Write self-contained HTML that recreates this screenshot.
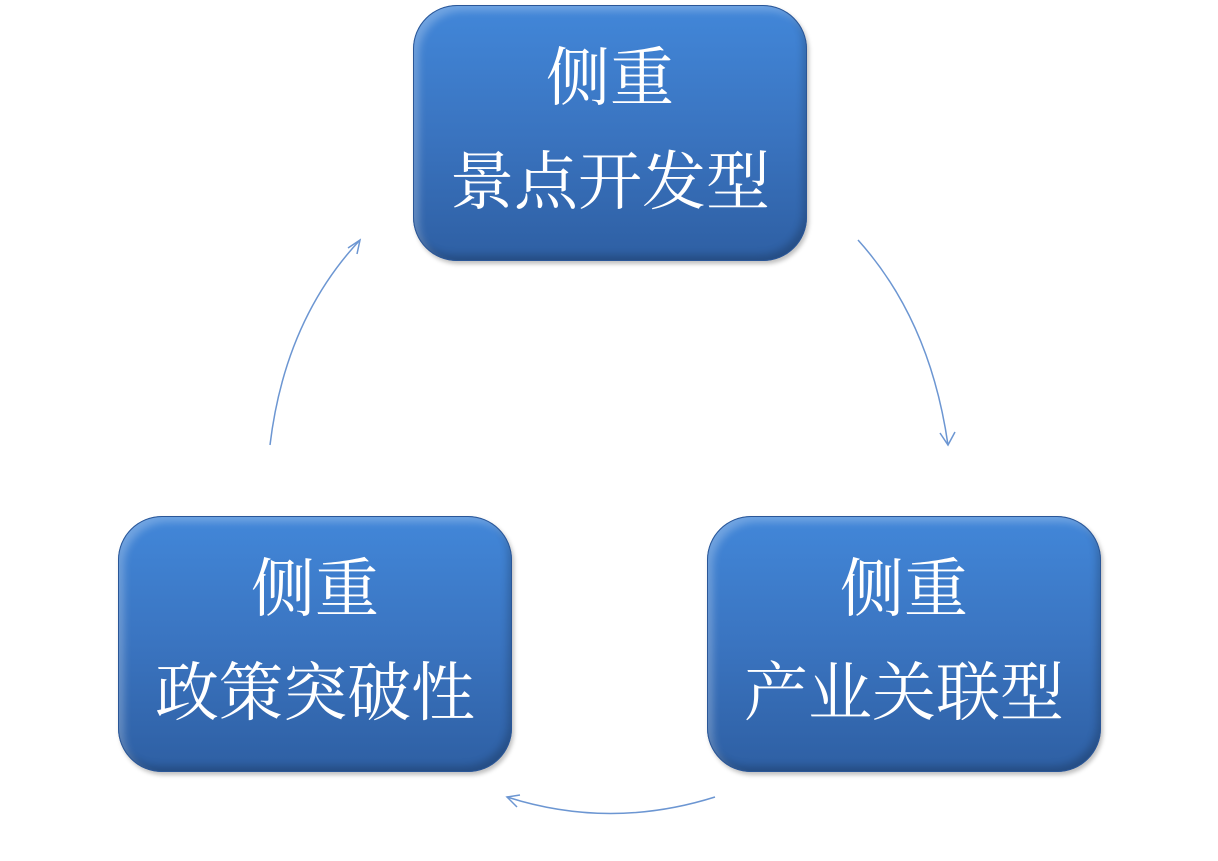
<!DOCTYPE html>
<html><head><meta charset="utf-8"><style>
body{margin:0;width:1218px;height:861px;background:#fff;position:relative;overflow:hidden}
.b{position:absolute;width:394px;height:256px;border-radius:44px;
background:linear-gradient(#4287d9,#3a74c0 50%,#2e5fa3);
box-shadow:inset 0 0 0 1px #2a5697,inset 6px 6px 8px rgba(255,255,255,.25),inset -4px -6px 8px rgba(0,0,0,.2),2px 3px 4px rgba(0,0,0,.25);
color:#fff;font-family:"Liberation Serif","Noto Serif CJK SC",serif;font-size:64px;text-align:center;line-height:104px;padding-top:22px;box-sizing:border-box}
</style></head><body>
<div class="b" style="left:413px;top:5px">侧重<br>景点开发型</div>
<div class="b" style="left:118px;top:516px">侧重<br>政策突破性</div>
<div class="b" style="left:707px;top:516px">侧重<br>产业关联型</div>
<svg width="1218" height="861" style="position:absolute;left:0;top:0" fill="none" stroke="#6c96d2" stroke-width="1.5">
<path d="M270 445 Q285 320 360 240"/><path d="M348 248 L360 240 L357 254"/>
<path d="M858 240 Q930 320 948 445"/><path d="M940 433 L948 445 L955 432"/>
<path d="M715 797 Q610 830 507 797"/><path d="M520 795 L507 797 L517 807"/>
</svg>
</body></html>
